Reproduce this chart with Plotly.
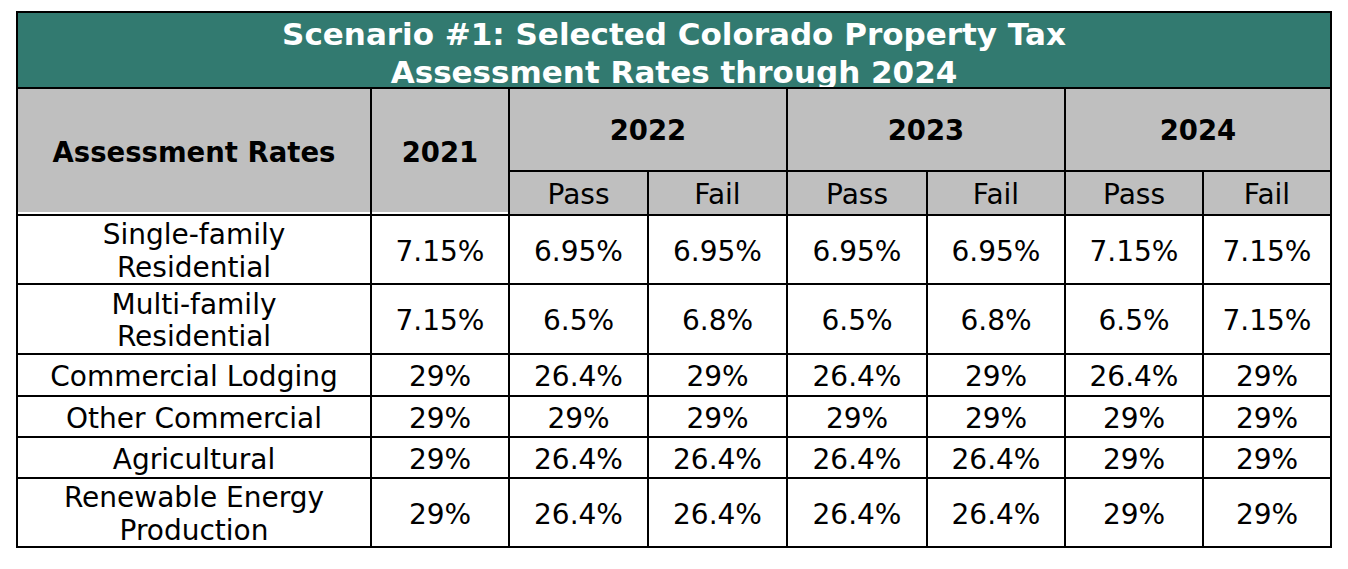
import plotly.graph_objects as go

# ---- table content ----
title_lines = ["Scenario #1: Selected Colorado Property Tax", "Assessment Rates through 2024"]
row_header = "Assessment Rates"
years = ["2021", "2022", "2023", "2024"]
sub_cols = ["Pass", "Fail"]
categories = [
    ["Single-family", "Residential"],
    ["Multi-family", "Residential"],
    ["Commercial Lodging"],
    ["Other Commercial"],
    ["Agricultural"],
    ["Renewable Energy", "Production"],
]
rate_2021 = ["7.15%", "7.15%", "29%", "29%", "29%", "29%"]
rate_2022_pass = ["6.95%", "6.5%", "26.4%", "29%", "26.4%", "26.4%"]
rate_2022_fail = ["6.95%", "6.8%", "29%", "29%", "26.4%", "26.4%"]
rate_2023_pass = ["6.95%", "6.5%", "26.4%", "29%", "26.4%", "26.4%"]
rate_2023_fail = ["6.95%", "6.8%", "29%", "29%", "26.4%", "26.4%"]
rate_2024_pass = ["7.15%", "6.5%", "26.4%", "29%", "29%", "29%"]
rate_2024_fail = ["7.15%", "7.15%", "29%", "29%", "29%", "29%"]
value_cols = [rate_2021, rate_2022_pass, rate_2022_fail, rate_2023_pass,
              rate_2023_fail, rate_2024_pass, rate_2024_fail]

# ---- grid geometry (page pixels) ----
W, H = 1348, 569
OFF = 8  # page body margin, so axis units line up with page pixels
col_edges = [17, 371, 509, 648, 787, 927, 1065, 1203, 1331]
row_edges = [12, 88, 171, 215, 284, 354, 396, 437, 478, 547]
title_y = [37, 75]
line_gap = 32.5  # distance between wrapped label lines
dy = 4           # nudge so glyphs sit visually centred

TEAL = "#327a70"
GRAY = "#bfbfbf"
FONT = "DejaVu Sans"

def mid(a, b):
    return (a + b) / 2

fig = go.Figure()

shapes = []
# background fills
shapes.append(dict(type="rect", x0=col_edges[0], x1=col_edges[-1], y0=row_edges[0], y1=row_edges[1],
                   fillcolor=TEAL, line_width=0, layer="below"))
shapes.append(dict(type="rect", x0=col_edges[0], x1=col_edges[2], y0=row_edges[1], y1=row_edges[3] - 3,
                   fillcolor=GRAY, line_width=0, layer="below"))
shapes.append(dict(type="rect", x0=col_edges[2], x1=col_edges[-1], y0=row_edges[1], y1=row_edges[3],
                   fillcolor=GRAY, line_width=0, layer="below"))

def hline(y, x0, x1):
    shapes.append(dict(type="line", x0=x0, x1=x1, y0=y, y1=y, line=dict(color="black", width=2)))

def vline(x, y0, y1):
    shapes.append(dict(type="line", x0=x, x1=x, y0=y0, y1=y1, line=dict(color="black", width=2)))

hline(row_edges[1], col_edges[0], col_edges[-1])
hline(row_edges[2], col_edges[2], col_edges[-1])
for y in row_edges[3:-1]:
    hline(y, col_edges[0], col_edges[-1])
for i in [1, 2, 4, 6]:
    vline(col_edges[i], row_edges[1], row_edges[-1])
for i in [3, 5, 7]:
    vline(col_edges[i], row_edges[2], row_edges[-1])
shapes.append(dict(type="rect", x0=col_edges[0], x1=col_edges[-1], y0=row_edges[0], y1=row_edges[-1],
                   line=dict(color="black", width=2)))

# ---- title ----
fig.add_trace(go.Scatter(
    x=[mid(col_edges[0], col_edges[-1])] * len(title_lines),
    y=title_y,
    text=[f"<b>{t}</b>" for t in title_lines],
    mode="text",
    textfont=dict(family=FONT, size=31, color="white"),
    hoverinfo="skip", showlegend=False,
))

# ---- bold headers ----
hx, hy, ht = [], [], []
hx.append(mid(col_edges[0], col_edges[1])); hy.append(mid(row_edges[1], row_edges[3]) + dy); ht.append(row_header)
hx.append(mid(col_edges[1], col_edges[2])); hy.append(mid(row_edges[1], row_edges[3]) + dy); ht.append(years[0])
for k, yr in enumerate(years[1:]):
    hx.append(mid(col_edges[2 + 2 * k], col_edges[4 + 2 * k]))
    hy.append(mid(row_edges[1], row_edges[2]) + dy)
    ht.append(yr)
fig.add_trace(go.Scatter(
    x=hx, y=hy, text=[f"<b>{t}</b>" for t in ht], mode="text",
    textfont=dict(family=FONT, size=27.5, color="black"),
    hoverinfo="skip", showlegend=False,
))

# ---- normal text: pass/fail, categories, values ----
nx, ny, nt = [], [], []
for c in range(2, 8):
    nx.append(mid(col_edges[c], col_edges[c + 1]))
    ny.append(mid(row_edges[2], row_edges[3]) + dy)
    nt.append(sub_cols[(c - 2) % 2])

for r, label in enumerate(categories):
    cy = mid(row_edges[3 + r], row_edges[4 + r]) + dy
    n = len(label)
    for j, part in enumerate(label):
        nx.append(mid(col_edges[0], col_edges[1]))
        ny.append(cy + (j - (n - 1) / 2) * line_gap)
        nt.append(part)
    for c, col in enumerate(value_cols):
        nx.append(mid(col_edges[1 + c], col_edges[2 + c]))
        ny.append(cy)
        nt.append(col[r])

fig.add_trace(go.Scatter(
    x=nx, y=ny, text=nt, mode="text",
    textfont=dict(family=FONT, size=28, color="black"),
    hoverinfo="skip", showlegend=False,
))

fig.update_layout(
    width=W, height=H,
    margin=dict(l=0, r=0, t=0, b=0),
    plot_bgcolor="white", paper_bgcolor="white",
    shapes=shapes,
    xaxis=dict(range=[OFF, W + OFF], visible=False, fixedrange=True),
    yaxis=dict(range=[H + OFF, OFF], visible=False, fixedrange=True),
)

fig.write_html("out.html", config={"displayModeBar": False})
